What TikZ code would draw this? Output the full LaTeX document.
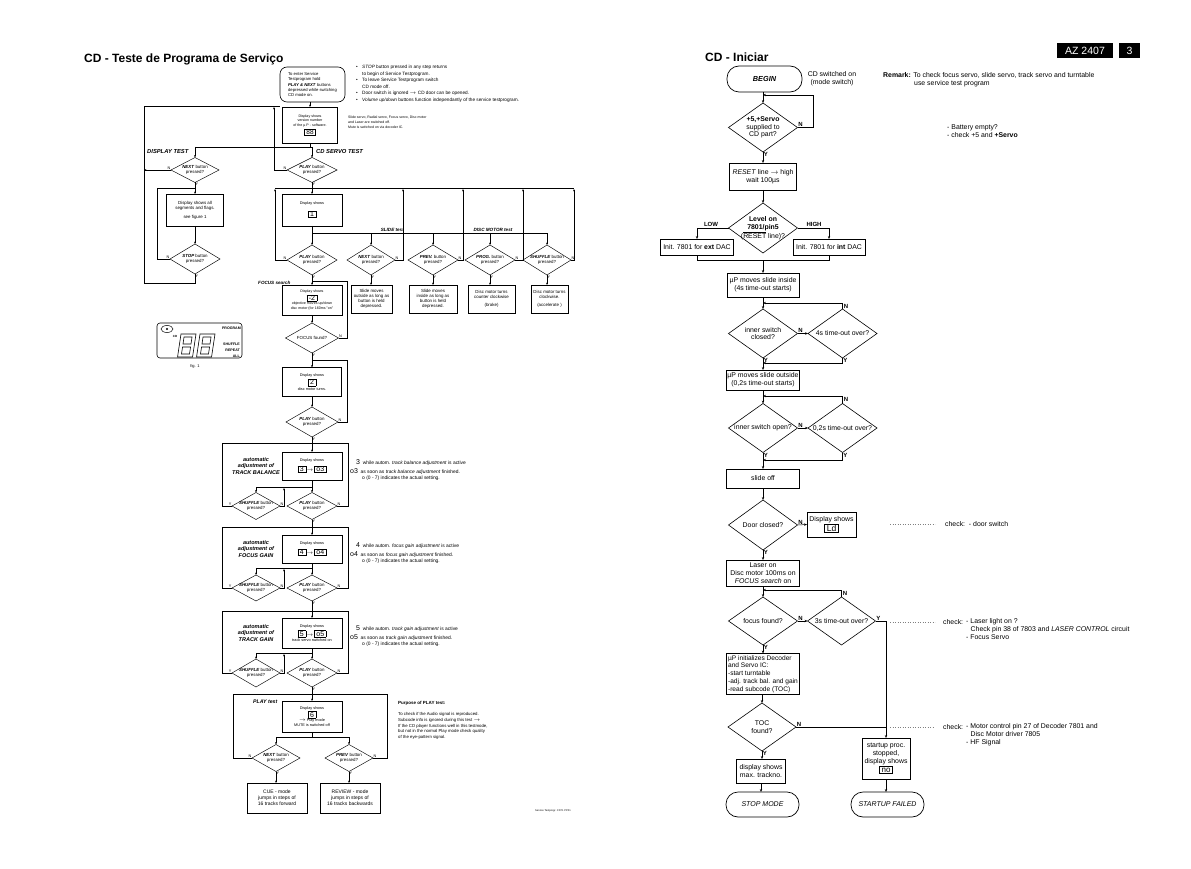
\documentclass[tikz,border=0pt]{standalone}
\usepackage{fontspec}
\setmainfont{Liberation Sans}
\usetikzlibrary{shapes.geometric,arrows.meta}
\newcommand\bi[1]{\textbf{\textit{#1}}}
\newcommand\lcd[2][7]{{\setlength\fboxsep{0.6pt}\setlength\fboxrule{0.5pt}\fbox{\fontsize{#1}{#1}\selectfont\vphantom{0}\,#2\,}}}
\newcommand\dia[6]{%
  \node[#1dia, minimum width=#4pt, minimum height=#5pt] (#2) at (#3) {};
  \node[#1txt] at (#2.center) {#6};}
\tikzset{
  lbox/.style={draw, line width=0.9pt, align=center, font=\fontsize{3.8}{4.6}\selectfont, inner sep=0.5pt, outer sep=0pt},
  ldia/.style={draw, diamond, line width=0.45pt, inner sep=0pt, outer sep=0pt},
  ltxt/.style={font=\fontsize{4.4}{5.3}\selectfont, align=center, inner sep=0pt},
  lcon/.style={line width=0.4pt},
  larr/.style={lcon, -{Stealth[length=2.4pt,width=1.8pt]}},
  yn/.style={font=\fontsize{3.8}{4}\selectfont, inner sep=0.4pt},
  lab/.style={font=\bfseries\itshape\fontsize{5.8}{7}\selectfont, inner sep=0pt},
  labs/.style={font=\bfseries\itshape\fontsize{4.6}{5.5}\selectfont, inner sep=0pt},
  autol/.style={font=\bfseries\itshape\fontsize{5.5}{6.6}\selectfont, align=center, inner sep=0pt},
  lnote/.style={font=\fontsize{4.9}{5.9}\selectfont, inner sep=0pt, anchor=west},
  rbox/.style={draw, line width=0.7pt, align=center, font=\fontsize{6.9}{7.8}\selectfont, inner sep=0.5pt, outer sep=0pt},
  rdia/.style={draw, diamond, line width=0.6pt, inner sep=0pt, outer sep=0pt},
  rtxt/.style={font=\fontsize{6.9}{7.8}\selectfont, align=center, inner sep=0pt},
  rcon/.style={line width=0.5pt},
  rarr/.style={rcon, -{Stealth[length=3pt,width=2.4pt]}},
  ryn/.style={font=\bfseries\fontsize{6}{7}\selectfont, inner sep=0.6pt},
  rnote/.style={font=\fontsize{6.9}{8}\selectfont, inner sep=0pt, align=left},
  stad/.style={draw, line width=0.7pt, rounded corners=12pt, minimum width=73pt, minimum height=25pt, inner sep=0pt, outer sep=0pt, font=\itshape\fontsize{7}{8}\selectfont},
  dots/.style={gray, dotted, line width=0.5pt}
}
\begin{document}
\begin{tikzpicture}[x=1pt,y=-1pt]
\fill[white] (0,0) rectangle (1191,869);
\useasboundingbox (0,0) rectangle (1191,869);

%================ LEFT PAGE =================
\node[anchor=base west, inner sep=0, font=\bfseries\fontsize{12}{14}\selectfont] (t1) at (84,63) {CD - Teste de Programa de Serviço};

\node[draw, line width=0.6pt, rounded corners=7pt, minimum width=65pt, minimum height=35pt, align=left, inner sep=1pt, font=\fontsize{4.2}{5.3}\selectfont] (enter) at (312.5,84.5) {To enter Service\\Testprogram hold\\\bi{PLAY \& NEXT} buttons\\depressed while switching\\CD mode on.};

\node[anchor=north west, inner sep=0, align=left, font=\fontsize{4.7}{6.5}\selectfont] (notes) at (356,65) {%
\makebox[6pt][l]{\textbullet}\textit{STOP} button pressed in any step returns\\
\makebox[6pt][l]{}to begin of Service Testprogram.\\
\makebox[6pt][l]{\textbullet}To leave Service Testprogram switch\\
\makebox[6pt][l]{}CD mode off.\\
\makebox[6pt][l]{\textbullet}Door switch is ignored $\rightarrow$ CD door can be opened.\\
\makebox[6pt][l]{\textbullet}\textit{Volume up/down} buttons function independantly of the service testprogram.};

\node[lbox, minimum width=55pt, minimum height=36pt, font=\fontsize{3.6}{4.5}\selectfont] (ver) at (310,125) {Display shows\\version number\\of the µ P - software.\\[1pt]\lcd[6.5]{88}};
\node[anchor=north west, inner sep=0, align=left, font=\fontsize{3.5}{5}\selectfont] (vnote) at (348,116) {Slide servo, Radial servo, Focus servo, Disc motor\\and Laser are switched off.\\Mute is switched on via decoder IC.};
\draw[larr] (ver.north |- enter.south) -- (ver.north);
\coordinate (j1) at (310,147);
\draw[lcon] (ver.south) -- (j1);
\node[lab, anchor=west] (ldt) at (147,152) {DISPLAY TEST};
\node[lab, anchor=west] (lcs) at (316,152) {CD SERVO TEST};

% display test
\dia{l}{next1}{195,170}{48}{25}{\bi{NEXT} button\\pressed?}
\dia{l}{play1}{312,170}{50}{25}{\bi{PLAY} button\\pressed?}
\draw[lcon] (195,147) -- (312,147);
\draw[larr] (195,147) -- (next1.north);
\draw[larr] (312,147) -- (play1.north);
\node[lbox, minimum width=57pt, minimum height=32pt, font=\fontsize{4.4}{5.4}\selectfont] (dt) at (195,210) {Display shows all\\segments and flags.\\[3pt]see figure 1};
\draw[larr] (next1.south) -- (dt.north);
\node[yn, anchor=north west] at (next1.south) {Y};
\dia{l}{stop1}{195,259}{50}{30}{\bi{STOP} button\\pressed?}
\draw[larr] (dt.south) -- (stop1.north);
\draw[lcon] (stop1.west) -| (157,188) -- (195,188);
\node[yn, anchor=south east] at (stop1.west) {N};
\draw[lcon] (stop1.south) |- (144,283) -- (144,106) -- (280,106);
\node[yn, anchor=north west] at (stop1.south) {Y};
\draw[larr] (next1.west) -- (144,170);
\node[yn, anchor=south east] at (next1.west) {N};
\draw[larr] (play1.west) -| (274,107);
\node[yn, anchor=south east] at (play1.west) {N};

% CD servo test
\node[lbox, minimum width=60pt, minimum height=32pt] (d1) at (312,210) {Display shows\\[4pt]\lcd[7]{1}};
\draw[larr] (play1.south) -- (d1.north);
\node[yn, anchor=north west] at (play1.south) {Y};
\draw[lcon] (275,188) -- (574,188);
\coordinate (j2) at (312,233);
\draw[lcon] (d1.south) -- (j2) -- (547,233);
\node[labs, anchor=south east] (lsl) at (404,231.5) {SLIDE test};
\node[labs, anchor=south] (ldm) at (493,231.5) {DISC MOTOR test};
\dia{l}{play2}{312,260}{50}{30}{\bi{PLAY} button\\pressed?}
\dia{l}{nx}{371,260}{48}{30}{\bi{NEXT} button\\pressed?}
\dia{l}{pv}{433,260}{50}{30}{\bi{PREV.} button\\pressed?}
\dia{l}{pg}{490,260}{50}{30}{\bi{PROG.} button\\pressed?}
\dia{l}{sh}{547,260}{48}{30}{\bi{SHUFFLE} button\\pressed?}
\draw[larr] (j2) -- (play2.north);
\foreach \n in {nx,pv,pg,sh} {\draw[larr] (\n.north |- j2) -- (\n.north);}
\draw[larr] (play2.west) -| (275,189);
\node[yn, anchor=south east] at (play2.west) {N};
\draw[larr] (nx.east) -| (403,189);
\draw[larr] (pv.east) -| (463,189);
\draw[larr] (pg.east) -| (523,189);
\draw[larr] (sh.east) -| (574,189);
\foreach \n in {nx,pv,pg,sh} {\node[yn, anchor=south west] at (\n.east) {N};}
\node[lbox, font=\fontsize{4.4}{5.2}\selectfont, minimum width=41pt, minimum height=28pt] (b1) at (371.5,299) {Slide moves\\outside as long as\\button is held\\depressed.};
\node[lbox, font=\fontsize{4.4}{5.2}\selectfont, minimum width=48pt, minimum height=28pt] (b2) at (433,299) {Slide moves\\inside as long as\\button is held\\depressed.};
\node[lbox, font=\fontsize{4.4}{5.2}\selectfont, minimum width=47pt, minimum height=28pt] (b3) at (491.5,299) {Disc motor turns\\counter clockwise\\[2.5pt](brake)};
\node[lbox, font=\fontsize{4.4}{5.2}\selectfont, minimum width=37pt, minimum height=28pt] (b4) at (549.5,299) {Disc motor turns\\clockwise.\\[2.5pt](accelerate )};
\draw[larr] (nx.south) -- (nx.south |- b1.north);
\draw[larr] (pv.south) -- (pv.south |- b2.north);
\draw[larr] (pg.south) -- (pg.south |- b3.north);
\draw[larr] (sh.south) -- (sh.south |- b4.north);
\foreach \n in {nx,pv,pg,sh,play2} {\node[yn, anchor=north west] at (\n.south) {Y};}

% focus
\node[labs, anchor=west] (lfs) at (258,283) {FOCUS search};
\node[lbox, minimum width=60pt, minimum height=30pt, font=\fontsize{3.6}{4.3}\selectfont] (fb) at (312,300) {Display shows\\\lcd[7]{-2}\\objective moves up/down\\disc motor (for 160ms "on"};
\draw[larr] (play2.south) -- (fb.north);
\dia{l}{ff}{312,338}{53}{30}{FOCUS found?}
\draw[larr] (fb.south) -- (ff.north);
\draw[lcon] (ff.east) -- (347,338) -- (347,281) -- (312,281);
\node[yn, anchor=south west] at (ff.east) {N};
\node[lbox, minimum width=59pt, minimum height=29pt] (d2) at (312,382) {Display shows\\[1pt]\lcd[7]{2}\\[1pt]disc motor turns.};
\draw[larr] (ff.south) -- (d2.north);
\node[yn, anchor=north west] at (ff.south) {Y};
\dia{l}{pl3}{312,422}{52}{30}{\bi{PLAY} button\\pressed?}
\draw[larr] (d2.south) -- (pl3.north);
\draw[lcon] (pl3.east) -- (347,422) -- (347,360) -- (312,360);
\node[yn, anchor=south west] at (pl3.east) {N};
\node[yn, anchor=north west] at (pl3.south) {Y};

% track balance loop
\node[lbox, minimum width=60pt, minimum height=28pt] (tb) at (312,466) {Display shows\\[2pt]\lcd[7]{3}\,$\rightarrow$\,\lcd[7]{o3}};
\draw[larr] (pl3.south) -- (tb.north);
\draw[lcon] (222,443) -- (348,443);
\node[autol] (atb) at (256,466) {automatic\\adjustment of\\TRACK BALANCE};
\draw[lcon] (tb.south) -- (312,487) -- (256,487);
\dia{l}{shtb}{256,506}{48}{27}{\bi{SHUFFLE} button\\pressed?}
\dia{l}{pltb}{312,506}{50}{27}{\bi{PLAY} button\\pressed?}
\draw[larr] (256,487) -- (shtb.north);
\draw[larr] (312,487) -- (pltb.north);
\draw[larr] (shtb.east) -| (284,488);
\node[yn, anchor=south west] at (shtb.east) {N};
\draw[lcon] (shtb.west) -| (222,443);
\node[yn, anchor=south east] at (shtb.west) {Y};
\draw[lcon] (pltb.east) -| (348,443);
\node[yn, anchor=south west] at (pltb.east) {N};
\node[yn, anchor=north west] at (pltb.south) {Y};

% focus gain loop
\node[lbox, minimum width=60pt, minimum height=28pt] (fg) at (312,549) {Display shows\\[2pt]\lcd[7]{4}\,$\rightarrow$\,\lcd[7]{o4}};
\draw[larr] (pltb.south) -- (fg.north);
\draw[lcon] (222,527) -- (348,527);
\node[autol] (afg) at (256,549) {automatic\\adjustment of\\FOCUS GAIN};
\draw[lcon] (fg.south) -- (312,568) -- (256,568);
\dia{l}{shfg}{256,588}{48}{26}{\bi{SHUFFLE} button\\pressed?}
\dia{l}{plfg}{312,588}{50}{26}{\bi{PLAY} button\\pressed?}
\draw[larr] (256,568) -- (shfg.north);
\draw[larr] (312,568) -- (plfg.north);
\draw[larr] (shfg.east) -| (284,569);
\node[yn, anchor=south west] at (shfg.east) {N};
\draw[lcon] (shfg.west) -| (222,527);
\node[yn, anchor=south east] at (shfg.west) {Y};
\draw[lcon] (plfg.east) -| (348,527);
\node[yn, anchor=south west] at (plfg.east) {N};
\node[yn, anchor=north west] at (plfg.south) {Y};

% track gain loop
\node[lbox, minimum width=60pt, minimum height=30pt] (tg) at (312,633) {Display shows\\[1pt]\lcd[7]{5}\,$\rightarrow$\,\lcd[7]{o5}\\track servo switched on};
\draw[larr] (plfg.south) -- (tg.north);
\draw[lcon] (222,611) -- (348,611);
\node[autol] (atg) at (256,633) {automatic\\adjustment of\\TRACK GAIN};
\draw[lcon] (tg.south) -- (312,653) -- (256,653);
\dia{l}{shtg}{256,673}{48}{28}{\bi{SHUFFLE} button\\pressed?}
\dia{l}{pltg}{312,673}{50}{28}{\bi{PLAY} button\\pressed?}
\draw[larr] (256,653) -- (shtg.north);
\draw[larr] (312,653) -- (pltg.north);
\draw[larr] (shtg.east) -| (284,654);
\node[yn, anchor=south west] at (shtg.east) {N};
\draw[lcon] (shtg.west) -| (222,611);
\node[yn, anchor=south east] at (shtg.west) {Y};
\draw[lcon] (pltg.east) -| (348,611);
\node[yn, anchor=south west] at (pltg.east) {N};
\node[yn, anchor=north west] at (pltg.south) {Y};

% notes to loops
\node[lnote] at (356,463) {{\fontsize{7}{7}\selectfont 3}\ \ while autom. \textit{track balance adjustment} is active};
\node[lnote] at (350,472) {{\fontsize{7}{7}\selectfont o3}\ \ as soon as \textit{track balance adjustment} finished.};
\node[lnote] at (362,478.5) {o (0 - 7) indicates the actual setting.};
\node[lnote] at (356,546) {{\fontsize{7}{7}\selectfont 4}\ \ while autom. \textit{focus gain adjustment} is active};
\node[lnote] at (350,555) {{\fontsize{7}{7}\selectfont o4}\ \ as soon as \textit{focus gain adjustment} finished.};
\node[lnote] at (362,561.5) {o (0 - 7) indicates the actual setting.};
\node[lnote] at (356,629) {{\fontsize{7}{7}\selectfont 5}\ \ while autom. \textit{track gain adjustment} is active};
\node[lnote] at (350,638) {{\fontsize{7}{7}\selectfont o5}\ \ as soon as \textit{track gain adjustment} finished.};
\node[lnote] at (362,644.5) {o (0 - 7) indicates the actual setting.};

% play test
\draw[lcon] (233,694) -- (387,694);
\node[font=\bfseries\itshape\fontsize{5.2}{6}\selectfont, inner sep=0, anchor=west] (lpt) at (253,702) {PLAY test};
\node[lbox, minimum width=60pt, minimum height=31pt] (pt) at (312,716.5) {Display shows\\\lcd[7]{6}\\$\rightarrow$ Play mode\\MUTE is switched off};
\draw[larr] (pltg.south) -- (pt.north);
\draw[lcon] (pt.south) -- (312,737);
\draw[lcon] (276,737) -- (349,737);
\dia{l}{nxp}{276,758}{48}{27}{\bi{NEXT} button\\pressed?}
\dia{l}{pvp}{349,758}{48}{27}{\bi{PREV} button\\pressed?}
\draw[larr] (276,737) -- (nxp.north);
\draw[larr] (349,737) -- (pvp.north);
\draw[lcon] (nxp.west) -| (233,694);
\node[yn, anchor=south east] at (nxp.west) {N};
\draw[lcon] (pvp.east) -| (387,694);
\node[yn, anchor=south west] at (pvp.east) {N};
\node[lbox, font=\fontsize{5}{6}\selectfont, minimum width=60pt, minimum height=30pt] (cue) at (277,798) {CUE - mode\\jumps in steps of\\16 tracks forward};
\node[lbox, font=\fontsize{5}{6}\selectfont, minimum width=60pt, minimum height=30pt] (rev) at (350,798) {REVIEW - mode\\jumps in steps of\\16 tracks backwards};
\draw[larr] (nxp.south) -- (nxp.south |- cue.north);
\draw[larr] (pvp.south) -- (pvp.south |- rev.north);
\node[yn, anchor=north west] at (nxp.south) {Y};
\node[yn, anchor=north west] at (pvp.south) {Y};

\node[anchor=west, inner sep=0, font=\bfseries\fontsize{4.5}{5}\selectfont] (pph) at (398,703) {Purpose of PLAY test:};
\node[anchor=north west, inner sep=0, align=left, font=\fontsize{4.3}{5.7}\selectfont] (ppt) at (398,712.5) {To check if the Audio signal is reproduced.\\Subcode info is ignored during this test $\rightarrow$\\If the CD player functions well in this testmode,\\but not in the normal Play mode check quality\\of the eye-pattern signal.};

% fig 1
\draw[line width=0.6pt, rounded corners=3pt] (157,323) rectangle (242,358);
\draw[line width=0.5pt] (167,329) ellipse [x radius=6, y radius=3.5];
\fill (167,329) circle [radius=1.2];
\node[font=\bfseries\fontsize{3}{3}\selectfont, inner sep=0] at (175,336) {CD};
\foreach \dx in {0,19} {
  \begin{scope}[shift={(181+\dx,334)}, xslant=0.15]
    \draw[line width=0.6pt] (0,0) rectangle (15,23) (3.5,3) rectangle (11.5,10) (3.5,13) rectangle (11.5,20);
  \end{scope}}
\node[font=\bfseries\fontsize{3.6}{4}\selectfont, inner sep=0, anchor=east] at (241,328) {PROGRAM};
\node[font=\bfseries\fontsize{3.6}{4}\selectfont, inner sep=0, anchor=east] at (240,344) {SHUFFLE};
\node[font=\bfseries\fontsize{3.6}{4}\selectfont, inner sep=0, anchor=east] at (240,350) {REPEAT};
\node[font=\bfseries\fontsize{3.6}{4}\selectfont, inner sep=0, anchor=east] at (240,356) {ALL};
\node[font=\fontsize{4}{5}\selectfont, inner sep=0] at (195,366) {fig. 1};

\node[font=\fontsize{2.6}{3}\selectfont, inner sep=0, anchor=west] at (535,811) {Service Testprogr. CD71 PP01};

%================ RIGHT PAGE =================
\fill[black] (1057,43) rectangle (1113,58);
\node[white, inner sep=0, font=\fontsize{10.5}{12}\selectfont] at (1085,50.5) {AZ 2407};
\fill[black] (1119,43) rectangle (1140,58);
\node[white, inner sep=0, font=\fontsize{10.5}{12}\selectfont] at (1129.5,50.5) {3};

\node[anchor=base west, inner sep=0, font=\bfseries\fontsize{12}{14}\selectfont] (t2) at (705,62) {CD - Iniciar};
\node[stad, minimum width=75pt, minimum height=26pt, font=\bfseries\itshape\fontsize{7.3}{8}\selectfont] (begin) at (764.5,79) {BEGIN};
\node[rnote, align=center] (csw) at (832,78.5) {CD switched on\\(mode switch)};
\node[anchor=base west, inner sep=0, font=\fontsize{6.9}{8}\selectfont] (rem) at (883,77.5) {\textbf{Remark:} To check focus servo, slide servo, track servo and turntable};
\node[anchor=base west, inner sep=0, font=\fontsize{6.9}{8}\selectfont] (rem2) at (914,85.5) {use service test program};
\node[rnote, anchor=north west] (bat) at (947,124) {- Battery empty?\\- check +5 and \textbf{+Servo}};

\dia{r}{p5}{763,127.5}{69}{49}{\textbf{+5,+Servo}\\supplied to\\CD part?}
\draw[rarr] (begin.south -| p5.north) -- (p5.north);
\draw[rarr] (p5.east) -- (813,127.5) -- (813,95) -- (763,95);
\node[ryn, anchor=south west] at (p5.east) {N};
\node[rbox, minimum width=67pt, minimum height=27pt] (rst) at (763,176.5) {\textit{RESET} line $\rightarrow$ high\\wait 100µs};
\draw[rarr] (p5.south) -- (rst.north);
\node[ryn, anchor=north west] at (p5.south) {Y};
\dia{r}{lvl}{763,228}{69}{50}{\textbf{Level on}\\\textbf{7801/pin5}\\($\overline{\mbox{RESET}}$ line)?}
\draw[rarr] (rst.south) -- (lvl.north);
\node[rbox, minimum width=73pt, minimum height=16pt] (ext) at (697,247) {Init. 7801 for \textbf{ext} DAC};
\node[rbox, minimum width=72pt, minimum height=16pt] (int) at (829,247) {Init. 7801 for \textbf{int} DAC};
\draw[rarr] (lvl.west) -| (ext.north);
\node[ryn, anchor=south] at (711,227) {LOW};
\draw[rarr] (lvl.east) -| (int.north);
\node[ryn, anchor=south] at (814,227) {HIGH};
\draw[rcon] (ext.south) -- (697,260) -- (829,260) -- (int.south);
\node[rbox, minimum width=72pt, minimum height=24pt] (sin) at (763,285) {µP moves slide inside\\(4s time-out starts)};
\draw[rarr] (763,260) -- (sin.north);

\dia{r}{isc}{763,333.5}{69}{49}{inner switch\\closed?}
\dia{r}{t4}{842.5,333.5}{69}{49}{4s time-out over?}
\draw[rarr] (sin.south) -- (isc.north);
\draw[rarr] (t4.north) -- (842.5,303) -- (763,303);
\node[ryn, anchor=north west] at (843,303.5) {N};
\draw[rarr] (isc.east) -- (t4.west);
\node[ryn, anchor=south west] at (isc.east) {N};
\draw[rarr] (t4.south) -- (842.5,363) -- (763,363);
\node[ryn, anchor=north west] at (t4.south) {Y};
\node[rbox, minimum width=73pt, minimum height=20pt] (sout) at (763,380) {µP moves slide outside\\(0,2s time-out starts)};
\draw[rarr] (isc.south) -- (sout.north);
\node[ryn, anchor=north west] at (isc.south) {Y};

\dia{r}{iso}{763,428}{69}{49}{inner switch open?}
\dia{r}{t02}{842.5,428}{69}{49}{0,2s time-out over?}
\draw[rarr] (sout.south) -- (iso.north);
\draw[rarr] (t02.north) -- (842.5,396) -- (763,396);
\node[ryn, anchor=north west] at (843,396.5) {N};
\draw[rarr] (iso.east) -- (t02.west);
\node[ryn, anchor=south west] at (iso.east) {N};
\draw[rarr] (t02.south) -- (842.5,460) -- (763,460);
\node[ryn, anchor=north west] at (t02.south) {Y};
\node[rbox, minimum width=73pt, minimum height=19pt] (soff) at (763,478.5) {slide off};
\draw[rarr] (iso.south) -- (soff.north);
\node[ryn, anchor=north west] at (iso.south) {Y};

\dia{r}{door}{763,525}{69}{50}{Door closed?}
\draw[rarr] (soff.south) -- (door.north);
\node[rbox, minimum width=49pt, minimum height=25pt] (dls) at (831.5,524.5) {Display shows\\[-0.5pt]\lcd[8.5]{Ld}};
\draw[rarr] (door.east) -- (dls.west);
\node[ryn, anchor=south west] at (door.east) {N};
\node[rnote, anchor=west] (chk1) at (945,524) {check:\ \ - door switch};
\draw[dots] (890,524) -- (935,524);

\node[rbox, minimum width=73pt, minimum height=26pt] (las) at (763,573) {Laser on\\Disc motor 100ms on\\\textit{FOCUS search} on};
\draw[rarr] (door.south) -- (las.north);
\node[ryn, anchor=north west] at (door.south) {Y};

\dia{r}{ffr}{763,621}{69}{48}{focus found?}
\dia{r}{t3}{841.5,621}{68}{48}{3s time-out over?}
\draw[rarr] (las.south) -- (ffr.north);
\draw[rarr] (t3.north) -- (841.5,590) -- (763,590);
\node[ryn, anchor=north west] at (842,590.5) {N};
\draw[rarr] (ffr.east) -- (t3.west);
\node[ryn, anchor=south west] at (ffr.east) {N};
\node[ryn, anchor=south west] at (t3.east) {Y};
\node[rnote, anchor=west] (chk2) at (943,622) {check:};
\node[rnote, anchor=north west] (chk2t) at (966,618) {- Laser light on ?\\\hspace*{4.5pt}Check pin 38 of 7803 and \textit{LASER CONTROL} circuit\\- Focus Servo};
\draw[dots] (890,622) -- (935,622);

\node[rbox, minimum width=73pt, minimum height=41pt, align=left, font=\fontsize{6.6}{7.8}\selectfont] (init) at (763,674) {µP initializes Decoder\\and Servo IC:\\-start turntable\\-adj. track bal. and gain\\-read subcode (TOC)};
\draw[rarr] (ffr.south) -- (init.north);
\node[ryn, anchor=north west] at (ffr.south) {Y};

\dia{r}{toc}{762,727}{68}{48}{TOC\\found?}
\draw[rarr] (init.south -| toc.north) -- (toc.north);
\node[rbox, minimum width=48pt, minimum height=41pt] (su) at (886,758.5) {startup proc.\\stopped,\\display shows\\[0.5pt]\lcd[8]{no}};
\draw[rarr] (t3.east) -- (su.north |- t3.east) -- (su.north);
\draw[rcon] (toc.east) -- (toc.east -| su.north);
\node[ryn, anchor=south west] at (toc.east) {N};
\node[rnote, anchor=west] (chk3) at (943,727) {check:};
\node[rnote, anchor=north west] (chk3t) at (966,723) {- Motor control pin 27 of Decoder 7801 and\\\hspace*{4.5pt}Disc Motor driver 7805\\- HF Signal};
\draw[dots] (890,727) -- (933,727);

\node[rbox, minimum width=49pt, minimum height=24pt] (dmax) at (761,771) {display shows\\max. trackno.};
\draw[rarr] (toc.south) -- (toc.south |- dmax.north);
\node[ryn, anchor=north west] at (toc.south) {Y};
\node[stad] (stopm) at (762.5,804.5) {STOP MODE};
\draw[rarr] (dmax.south) -- (dmax.south |- stopm.north);
\node[stad] (fail) at (887.5,804.5) {STARTUP FAILED};
\draw[rarr] (su.south) -- (su.south |- fail.north);
\end{tikzpicture}
\end{document}
